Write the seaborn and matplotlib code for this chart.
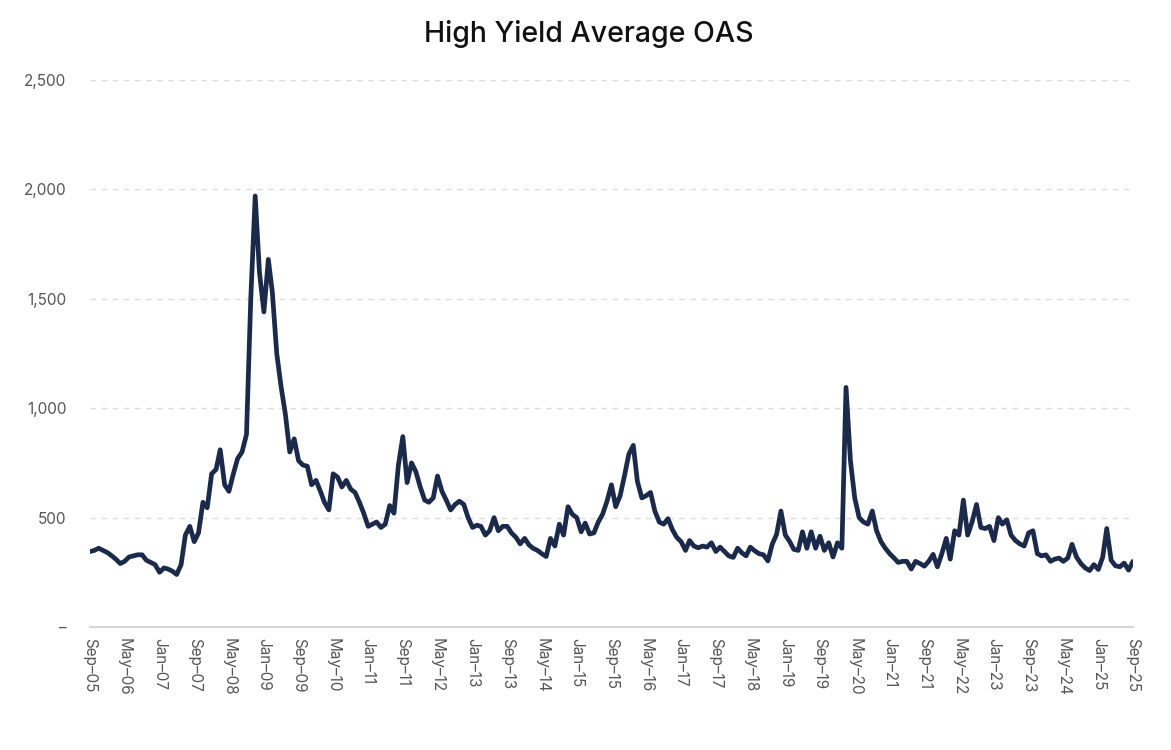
import matplotlib
matplotlib.use("Agg")
import matplotlib.pyplot as plt
from matplotlib.ticker import FuncFormatter
import pandas as pd
import seaborn as sns

# Monthly high yield average OAS (bp)
oas_2005 = [345, 350, 360, 350]  # Sep-Dec
oas_2006 = [340, 325, 310, 290, 300, 320, 325, 330, 330, 305, 295, 285]
oas_2007 = [250, 270, 265, 255, 240, 285, 420, 460, 390, 430, 570, 545]
oas_2008 = [700, 720, 810, 650, 620, 700, 770, 800, 880, 1500, 1970, 1620]
oas_2009 = [1440, 1680, 1530, 1250, 1100, 970, 800, 860, 760, 740, 735, 650]
oas_2010 = [670, 620, 570, 535, 700, 685, 640, 670, 630, 615, 570, 520]
oas_2011 = [460, 470, 480, 455, 470, 555, 520, 740, 870, 660, 750, 710]
oas_2012 = [640, 580, 570, 590, 690, 620, 580, 535, 560, 575, 560, 500]
oas_2013 = [455, 465, 460, 420, 440, 500, 440, 460, 460, 430, 410, 380]
oas_2014 = [405, 375, 360, 350, 335, 322, 405, 370, 470, 420, 550, 515]
oas_2015 = [500, 435, 475, 425, 430, 480, 515, 575, 650, 550, 600, 690]
oas_2016 = [790, 830, 665, 590, 600, 615, 530, 480, 470, 495, 445, 410]
oas_2017 = [390, 350, 395, 370, 362, 370, 365, 385, 345, 365, 345, 325]
oas_2018 = [318, 360, 340, 325, 365, 348, 335, 330, 302, 378, 424, 530]
oas_2019 = [420, 390, 355, 350, 435, 360, 435, 360, 415, 350, 385, 320]
oas_2020 = [385, 360, 1095, 760, 590, 500, 480, 470, 530, 440, 390, 360]
oas_2021 = [335, 315, 295, 300, 300, 265, 300, 290, 278, 300, 332, 275]
oas_2022 = [335, 405, 310, 440, 420, 580, 420, 480, 560, 455, 450, 460]
oas_2023 = [395, 500, 470, 490, 420, 395, 380, 370, 430, 440, 335, 325]
oas_2024 = [330, 300, 310, 315, 300, 315, 378, 320, 290, 270, 258, 285]
oas_2025 = [263, 320, 450, 305, 280, 275, 292, 260, 300]  # Jan-Sep

y_ticks = [0, 500, 1000, 1500, 2000, 2500]
title = "High Yield Average OAS"

values = (oas_2005 + oas_2006 + oas_2007 + oas_2008 + oas_2009 + oas_2010
          + oas_2011 + oas_2012 + oas_2013 + oas_2014 + oas_2015 + oas_2016
          + oas_2017 + oas_2018 + oas_2019 + oas_2020 + oas_2021 + oas_2022
          + oas_2023 + oas_2024 + oas_2025)
dates = pd.date_range("2005-09-01", periods=len(values), freq="MS")
df = pd.DataFrame({"date": dates, "oas": values})

sns.set_theme(style="white")
plt.rcParams["font.family"] = ["Inter", "DejaVu Sans"]

fig = plt.figure(figsize=(11.71, 7.5), dpi=100)
ax = fig.add_axes([90 / 1171, 1 - 627 / 750, (1133 - 90) / 1171, (627 - 80) / 750])

sns.lineplot(data=df, x="date", y="oas", ax=ax, color="#1b2a4a", linewidth=3.4)

ax.set_xlim(dates[0], dates[-1])
ax.set_ylim(0, 2500)
ax.set_yticks(y_ticks)
ax.yaxis.set_major_formatter(FuncFormatter(lambda v, p: "–" if v == 0 else f"{v:,.0f}"))
ax.grid(axis="y", color="#dcdcdc", linestyle=(0, (4, 4)), linewidth=1)
ax.set_axisbelow(True)

x_ticks = pd.date_range("2005-09-01", "2025-09-01", freq="8MS")
ax.set_xticks(x_ticks)
ax.set_xticklabels([d.strftime("%b–%y") for d in x_ticks], rotation=270)

for side in ["top", "right", "left"]:
    ax.spines[side].set_visible(False)
ax.spines["bottom"].set_color("#d6d6d6")
ax.spines["bottom"].set_linewidth(1.5)

ax.tick_params(axis="x", length=5, width=1.2, color="#d6d6d6", pad=3, labelsize=11, labelcolor="#555555")
ax.tick_params(axis="y", length=0, pad=17, labelsize=11, labelcolor="#555555")
ax.set_xlabel("")
ax.set_ylabel("")

fig.text(0.503, 0.955, title, ha="center", va="center", fontsize=20.5,
         fontweight="medium", color="#111111")

fig.savefig("out.png", dpi=100)
